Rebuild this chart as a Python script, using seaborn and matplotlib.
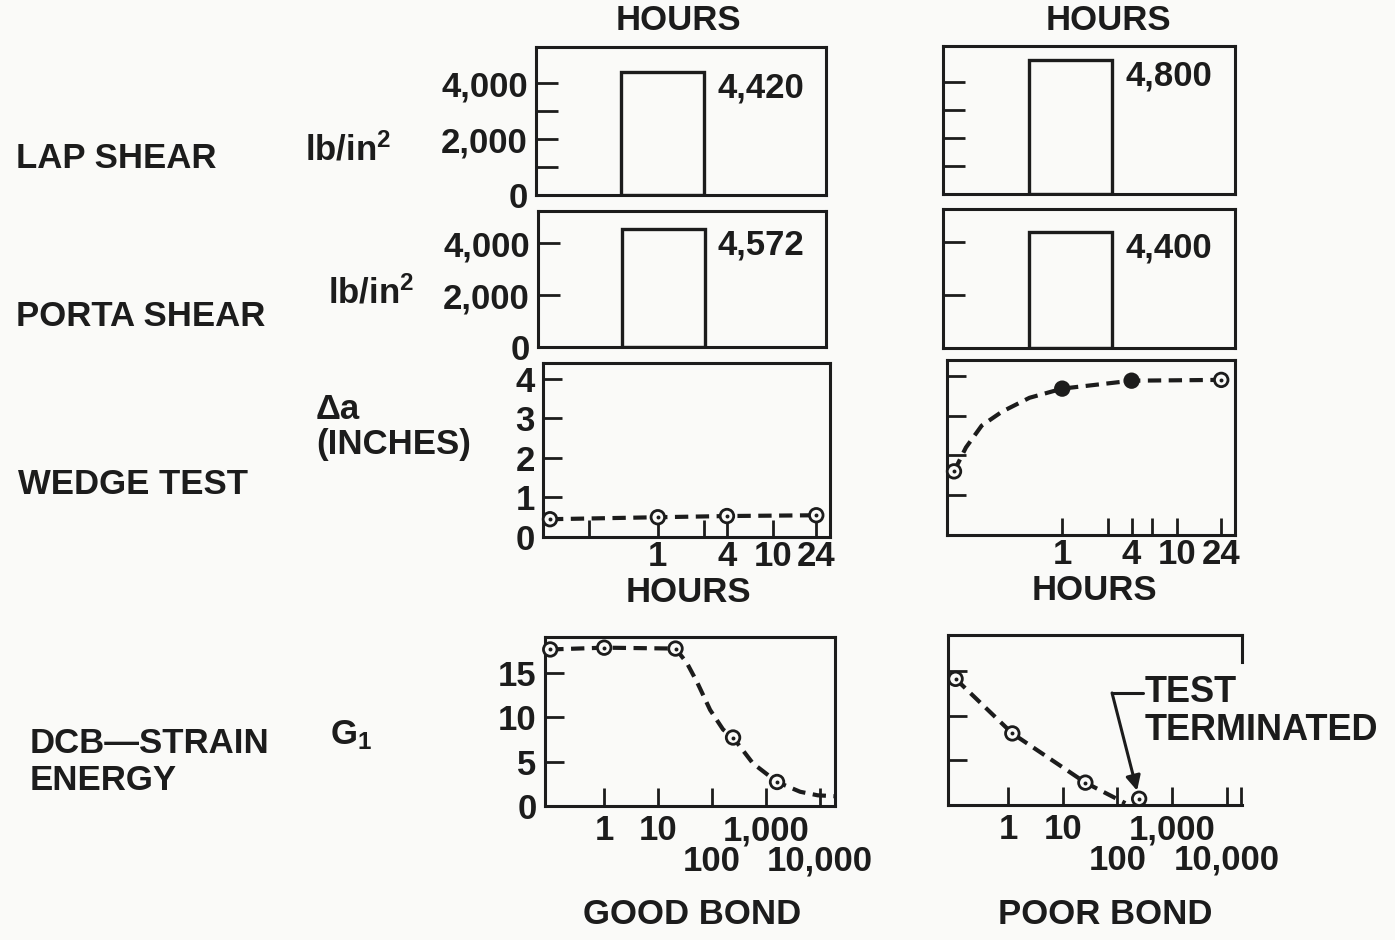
"""
Adhesive bond tests - good bond vs poor bond
Lap shear, porta shear, wedge test and DCB strain energy panels
"""

import numpy as np
import pandas as pd
import matplotlib
matplotlib.use('Agg')
import matplotlib.pyplot as plt
from matplotlib.ticker import FixedLocator, NullLocator
import seaborn as sns

sns.set_style('white')
plt.rcParams['font.family'] = ['Liberation Sans', 'DejaVu Sans']
plt.rcParams['font.weight'] = 'bold'
plt.rcParams['mathtext.fontset'] = 'custom'
plt.rcParams['mathtext.rm'] = 'Liberation Sans:bold'
plt.rcParams['mathtext.it'] = 'Liberation Sans:bold'
plt.rcParams['mathtext.bf'] = 'Liberation Sans:bold'
plt.rcParams['mathtext.default'] = 'rm'

INK = '#1c1c1c'
BG = '#fafaf8'
FS = 25

# ---- data ----
columns = ['GOOD BOND', 'POOR BOND']
lap_shear = [4420, 4800]          # lb/in^2
porta_shear = [4572, 4400]        # lb/in^2

wedge_hours = [0.115, 1, 4, 24]
wedge_good = [0.45, 0.50, 0.53, 0.55]
wedge_poor = [1.6, 3.68, 3.88, 3.9]
wedge_poor_filled = [False, True, True, False]
# dashed curves as drawn through the wedge points
wedge_good_curve_hours = [0.115, 1, 4, 24]
wedge_good_curve = [0.45, 0.50, 0.53, 0.55]
wedge_poor_curve_hours = [0.115, 0.146, 0.2, 0.3, 0.52, 1, 4, 24]
wedge_poor_curve = [1.6, 2.2, 2.75, 3.1, 3.45, 3.68, 3.88, 3.9]

dcb_good_hours = [0.1, 1, 21, 245, 1600]
dcb_good = [17.6, 17.8, 17.7, 7.7, 2.7]
dcb_good_curve_hours = [0.1, 1, 21, 34, 53, 92, 160, 245, 570, 1600, 4300, 9100, 19000]
dcb_good_curve = [17.6, 17.8, 17.7, 16.1, 13.9, 10.8, 8.6, 7.7, 4.8, 2.7, 1.6, 1.2, 1.1]

dcb_poor_hours = [0.11, 1.2, 26, 250]
dcb_poor = [14.1, 8.0, 2.5, 0.7]
dcb_poor_curve_hours = [0.11, 1.2, 26, 140]
dcb_poor_curve = [14.1, 8.0, 2.5, 0.2]

# ---- ticks ----
bar_yticks = [0, 2000, 4000]
bar_ylabels = ['0', '2,000', '4,000']
lap_minor = [1000, 3000]
wedge_yticks = [0, 1, 2, 3, 4]
wedge_xticks = [1, 4, 10, 24]
wedge_xlabels = ['1', '4', '10', '24']
wedge_minor = [[0.25, 2.5], [2.5, 6]]
dcb_yticks = [0, 5, 10, 15]
dcb_xticks_top = [1, 10, 1000]          # labels on the upper row
dcb_xlabels_top = ['1', '10', '1,000']
dcb_xticks_low = [100, 10000]           # labels on the lower row
dcb_xlabels_low = ['100', '10,000']

# ---- layout, in pixels of the 1395x940 image ----
W, H = 1395, 940


def box(l, t, r, b):
    return [l / W, 1 - b / H, (r - l) / W, (b - t) / H]


boxes = {
    'lap': [box(536, 47, 826, 195), box(943, 46, 1235, 194)],
    'porta': [box(538, 211, 826, 347), box(943, 209, 1235, 348)],
    'wedge': [box(543, 363, 830, 537), box(947, 360, 1235, 535)],
    'dcb': [box(545, 637, 835, 806), box(948, 635, 1242, 805)],
}

fig = plt.figure(figsize=(13.95, 9.40), dpi=100, facecolor=BG)


def ftext(x, y, s, **kw):
    kw.setdefault('ha', 'center')
    kw.setdefault('va', 'center')
    fig.text(x / W, 1 - y / H, s, fontsize=FS, color=INK, fontweight='bold', **kw)


def style(ax, ylen=15, xlen=12):
    ax.set_facecolor('none')
    for s in ax.spines.values():
        s.set_visible(True)
        s.set_linewidth(2.2)
        s.set_color(INK)
    ax.tick_params(axis='y', which='both', direction='in', length=ylen, width=2,
                   color=INK, labelsize=FS, labelcolor=INK, pad=6, left=True)
    ax.tick_params(axis='x', which='both', direction='in', length=xlen, width=2,
                   color=INK, labelsize=FS, labelcolor=INK, pad=6, bottom=True)
    ax.set_xlabel('')
    ax.set_ylabel('')


def bar_panel(ax, value, minor, ytop, col):
    sns.barplot(x=['v'], y=[value], ax=ax, fill=False, color=INK, saturation=1,
                linewidth=2.4, width=0.8, errorbar=None)
    ax.set_xlim(-1.22, 1.58)
    ax.set_xticks([])
    ax.set_ylim(0, ytop)
    ax.set_yticks(bar_yticks, bar_ylabels if col == 0 else [])
    ax.yaxis.set_minor_locator(FixedLocator(minor))
    ax.text(0.4 + 0.13, value, f'{value:,}', ha='left', va='top',
            fontsize=FS, color=INK, fontweight='bold')
    style(ax, ylen=16)


def points(ax, hours, vals, filled=None):
    if filled is None:
        filled = [False] * len(hours)
    df = pd.DataFrame({'h': hours, 'v': vals, 'filled': filled})
    sns.scatterplot(data=df, x='h', y='v', hue='filled', palette={False: BG, True: INK},
                    ax=ax, s=95, edgecolor=INK, linewidth=2, legend=False,
                    zorder=4, clip_on=False)
    sns.scatterplot(data=df, x='h', y='v', ax=ax, s=8, color=INK, edgecolor=INK,
                    linewidth=0, zorder=5, clip_on=False)


def curve(ax, hours, vals):
    sns.lineplot(x=hours, y=vals, ax=ax, color=INK, linewidth=3.0,
                 linestyle=(0, (3.2, 1.8)), zorder=3)


# lap shear and porta shear bars
for col in range(2):
    ax = fig.add_axes(boxes['lap'][col])
    bar_panel(ax, lap_shear[col], lap_minor, 5300, col)
    ax = fig.add_axes(boxes['porta'][col])
    bar_panel(ax, porta_shear[col], [], 5250, col)

# wedge test
wedge_vals = [wedge_good, wedge_poor]
wedge_fill = [None, wedge_poor_filled]
wedge_curves = [(wedge_good_curve_hours, wedge_good_curve),
                (wedge_poor_curve_hours, wedge_poor_curve)]
for col in range(2):
    ax = fig.add_axes(boxes['wedge'][col])
    ax.set_xscale('log')
    curve(ax, *wedge_curves[col])
    points(ax, wedge_hours, wedge_vals[col], wedge_fill[col])
    ax.set_xlim(0.1, 31.6)
    ax.set_ylim(0, 4.4)
    ax.set_xticks(wedge_xticks, wedge_xlabels)
    ax.xaxis.set_minor_locator(FixedLocator(wedge_minor[col]))
    ax.set_yticks(wedge_yticks, [str(t) for t in wedge_yticks] if col == 0 else [])
    ax.yaxis.set_minor_locator(NullLocator())
    style(ax, ylen=14, xlen=12)
    ax.tick_params(axis='x', pad=2)

# DCB strain energy
dcb_pts = [(dcb_good_hours, dcb_good), (dcb_poor_hours, dcb_poor)]
dcb_curves = [(dcb_good_curve_hours, dcb_good_curve), (dcb_poor_curve_hours, dcb_poor_curve)]
for col in range(2):
    ax = fig.add_axes(boxes['dcb'][col])
    ax.set_xscale('log')
    curve(ax, *dcb_curves[col])
    points(ax, *dcb_pts[col])
    ax.set_xlim(0.08, 19000)
    ax.set_ylim(0, 19)
    ax.set_xticks(dcb_xticks_top, dcb_xlabels_top)
    low_ticks = list(dcb_xticks_low)
    low_labels = list(dcb_xlabels_low)
    if col == 1:
        # short tick at the right end of the poor-bond axis
        low_ticks.append(18500)
        low_labels.append('')
    ax.set_xticks(low_ticks, low_labels, minor=True)
    ax.set_yticks(dcb_yticks, [str(t) for t in dcb_yticks] if col == 0 else [])
    ax.yaxis.set_minor_locator(NullLocator())
    style(ax, ylen=14, xlen=13)
    ax.tick_params(axis='x', which='minor', pad=28)
    if col == 1:
        ax.spines['right'].set_bounds(16, 19)
        ax.text(0.67, 0.55, 'TEST\nTERMINATED', transform=ax.transAxes,
                ha='left', va='center', fontsize=FS + 1, color=INK, fontweight='bold',
                linespacing=1.08, clip_on=False)
        ax.plot([0.558, 0.663], [0.659, 0.659], transform=ax.transAxes,
                color=INK, lw=2.2, clip_on=False)
        ax.annotate('', xy=(dcb_poor_hours[-1], dcb_poor[-1]), xycoords='data',
                    xytext=(0.558, 0.659), textcoords='axes fraction',
                    arrowprops=dict(arrowstyle='-|>', color=INK, lw=2.2,
                                    shrinkA=0, shrinkB=6, mutation_scale=22))

# row and column labels
ftext(678, 20, 'HOURS')
ftext(1108, 20, 'HOURS')
ftext(688, 592, 'HOURS')
ftext(1094, 590, 'HOURS')
ftext(692, 915, columns[0])
ftext(1105, 915, columns[1])

ftext(16, 158, 'LAP SHEAR', ha='left')
ftext(16, 317, 'PORTA SHEAR', ha='left')
ftext(18, 485, 'WEDGE TEST', ha='left')
ftext(30, 762, 'DCB\u2014STRAIN\nENERGY', ha='left', linespacing=1.15)

ftext(305, 150, 'lb/in$^2$', ha='left')
ftext(328, 293, 'lb/in$^2$', ha='left')
ftext(316, 427, '\u0394a\n(INCHES)', ha='left', linespacing=1.05)
ftext(330, 735, 'G$_1$', ha='left')

plt.savefig('out.png', dpi=100, facecolor=BG)
